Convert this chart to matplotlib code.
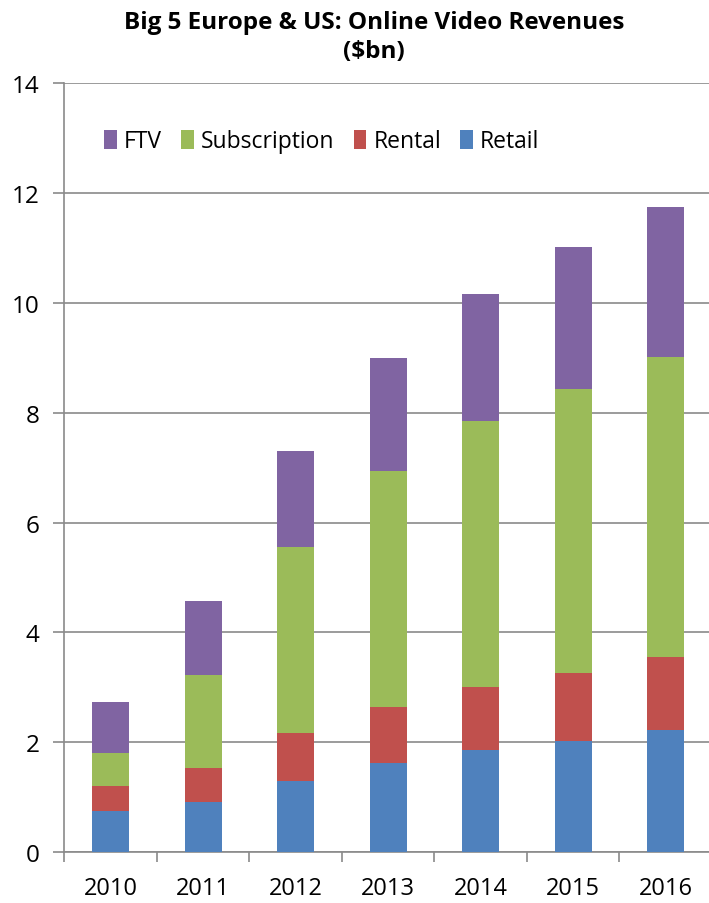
import matplotlib
matplotlib.use("Agg")
import matplotlib.pyplot as plt
import numpy as np

plt.rcParams['font.family'] = ['Open Sans', 'DejaVu Sans']

# Values ($bn), cumulative tops converted to segments
years = ['2010', '2011', '2012', '2013', '2014', '2015', '2016']
retail = [0.76, 0.91, 1.29, 1.62, 1.87, 2.03, 2.22]
rental = [0.45, 0.63, 0.88, 1.02, 1.14, 1.24, 1.33]
subscription = [0.59, 1.68, 3.39, 4.29, 4.84, 5.17, 5.46]
ftv = [0.94, 1.36, 1.74, 2.06, 2.31, 2.57, 2.73]

colors = {'Retail': '#4F81BD', 'Rental': '#C0504D',
          'Subscription': '#9BBB59', 'FTV': '#8064A2'}
grid_col = '#8a8a8a'

fig = plt.figure(figsize=(7.09, 9.04), dpi=100)
ax = fig.add_axes([0.0907, 0.0561, 0.9133, 0.851])

x = np.arange(len(years))
w = 0.4
bottom = np.zeros(len(years))
handles = {}
for name, vals in [('Retail', retail), ('Rental', rental),
                   ('Subscription', subscription), ('FTV', ftv)]:
    b = ax.bar(x, vals, w, bottom=bottom, color=colors[name], label=name, zorder=3)
    handles[name] = b
    bottom += np.array(vals)

ax.set_xlim(-0.5, 6.5)
ax.set_ylim(0, 14)
ax.set_yticks(range(0, 15, 2))
ax.yaxis.grid(True, color=grid_col, lw=1.2, zorder=0)
ax.set_axisbelow(True)

for s in ['top', 'right']:
    ax.spines[s].set_visible(False)
for s in ['left', 'bottom']:
    ax.spines[s].set_color(grid_col)
    ax.spines[s].set_linewidth(1.2)

ax.set_xticks(x)
ax.set_xticklabels(years)
ax.set_xticks(np.arange(-0.5, 7, 1), minor=True)
ax.tick_params(axis='x', which='major', length=0, pad=17, labelsize=17)
ax.tick_params(axis='x', which='minor', length=7, width=1.2, color=grid_col)
ax.tick_params(axis='y', length=8, width=1.2, color=grid_col, pad=10, labelsize=17.5)

order = ['FTV', 'Subscription', 'Rental', 'Retail']
leg = ax.legend([handles[k] for k in order], order, ncol=4, frameon=False,
                loc='center left', bbox_to_anchor=(0.03, 0.924),
                fontsize=16.5, handlelength=0.55, handleheight=0.85,
                handletextpad=0.3, columnspacing=0.85)

fig.text(0.528, 0.988, 'Big 5 Europe & US: Online Video Revenues\n($bn)',
         ha='center', va='top', fontsize=17.5, fontweight='bold',
         linespacing=1.3)

fig.savefig('out.png', dpi=100)
